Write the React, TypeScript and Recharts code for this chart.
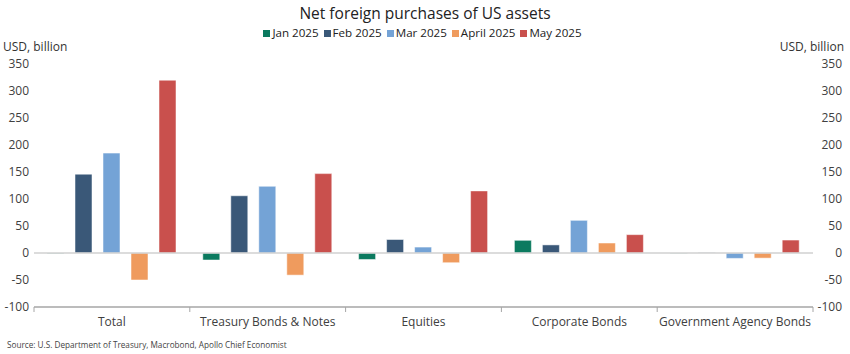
import React from "react";
import { BarChart, Bar, XAxis, YAxis, ReferenceLine } from "recharts";

const categories = ["Total", "Treasury Bonds & Notes", "Equities", "Corporate Bonds", "Government Agency Bonds"];
const jan2025 = [-1, -13, -12, 23.5, -0.5];
const feb2025 = [146, 106, 25, 15, 0.5];
const mar2025 = [185, 123.5, 11, 60.5, -10];
const apr2025 = [-50, -41, -18, 18.5, -9.5];
const may2025 = [320, 147, 115, 34, 24];
const yTicks = [-100, -50, 0, 50, 100, 150, 200, 250, 300, 350];

const series = [
  { key: "jan", name: "Jan 2025", color: "#0b7a5f" },
  { key: "feb", name: "Feb 2025", color: "#3a5878" },
  { key: "mar", name: "Mar 2025", color: "#74a3d6" },
  { key: "apr", name: "April 2025", color: "#ef9b5e" },
  { key: "may", name: "May 2025", color: "#c9504d" },
];

const data = categories.map((c, i) => ({
  name: c,
  jan: jan2025[i],
  feb: feb2025[i],
  mar: mar2025[i],
  apr: apr2025[i],
  may: may2025[i],
}));

const W = 850;
const H = 354;
const LEFT = 34;
const RIGHT = 37;
const FONT = "'Open Sans', 'Noto Sans', sans-serif";
const band = (W - LEFT - RIGHT) / categories.length;

function CategoryTick(props: any) {
  const { x, y, payload, index } = props;
  return (
    <g>
      <line x1={x - band / 2} x2={x - band / 2} y1={307} y2={312} stroke="#a6a6a6" />
      {index === categories.length - 1 && (
        <line x1={x + band / 2} x2={x + band / 2} y1={307} y2={312} stroke="#a6a6a6" />
      )}
      <text x={x} y={y + 11} textAnchor="middle" fontSize={12} fill="#404040" fontFamily={FONT}>
        {payload.value}
      </text>
    </g>
  );
}

// left labels end at 29, right labels end at 842
function ValueTick(props: any) {
  const { y, payload } = props;
  return (
    <g fontSize={12} fill="#404040" fontFamily={FONT}>
      <text x={29} y={y + 4} textAnchor="end">{payload.value}</text>
      <text x={842} y={y + 4} textAnchor="end">{payload.value}</text>
    </g>
  );
}

export default function App() {
  return (
    <div style={{ position: "absolute", left: 0, top: 0, width: W, height: H, background: "#fff", fontFamily: FONT }}>
      <div
        style={{
          position: "absolute",
          top: 4,
          width: W,
          textAlign: "center",
          fontSize: 15.5,
          lineHeight: "18px",
          color: "#222",
        }}
      >
        Net foreign purchases of US assets
      </div>
      <div
        style={{
          position: "absolute",
          top: 26,
          width: W,
          display: "flex",
          justifyContent: "center",
          alignItems: "center",
          fontSize: 11.6,
          lineHeight: "14px",
          color: "#222",
        }}
      >
        {series.map((s) => (
          <React.Fragment key={s.key}>
            <span style={{ width: 7, height: 7, background: s.color, display: "inline-block", marginRight: 2 }} />
            <span style={{ marginRight: 5, whiteSpace: "nowrap" }}>{s.name}</span>
          </React.Fragment>
        ))}
      </div>
      <div style={{ position: "absolute", left: 3, top: 39, fontSize: 12, lineHeight: "15px", color: "#333" }}>
        USD, billion
      </div>
      <div style={{ position: "absolute", right: 6, top: 39, fontSize: 12, lineHeight: "15px", color: "#333" }}>
        USD, billion
      </div>
      <div style={{ position: "absolute", left: 7, top: 339, fontSize: 8.2, color: "#444" }}>
        Source: U.S. Department of Treasury, Macrobond, Apollo Chief Economist
      </div>
      <div style={{ position: "absolute", left: 0, top: 0 }}>
        <BarChart
          width={W}
          height={H}
          data={data}
          margin={{ top: 64, right: RIGHT, bottom: 0, left: 0 }}
          barSize={17}
          barGap={11}
        >
          <XAxis
            dataKey="name"
            interval={0}
            tickLine={false}
            axisLine={{ stroke: "#a6a6a6", strokeWidth: 1.5 }}
            tick={<CategoryTick />}
            height={47}
          />
          <YAxis
            orientation="left"
            width={LEFT}
            domain={[-100, 350]}
            ticks={yTicks}
            interval={0}
            axisLine={false}
            tickLine={false}
            tick={<ValueTick />}
          />
          <ReferenceLine y={0} stroke="#d0d0d0" strokeWidth={1.5} />
          {series.map((s) => (
            <Bar
              key={s.key}
              dataKey={s.key}
              name={s.name}
              fill={s.color}
              stroke="#ffffff"
              strokeOpacity={0.5}
              strokeWidth={1}
              isAnimationActive={false}
            />
          ))}
        </BarChart>
      </div>
    </div>
  );
}
